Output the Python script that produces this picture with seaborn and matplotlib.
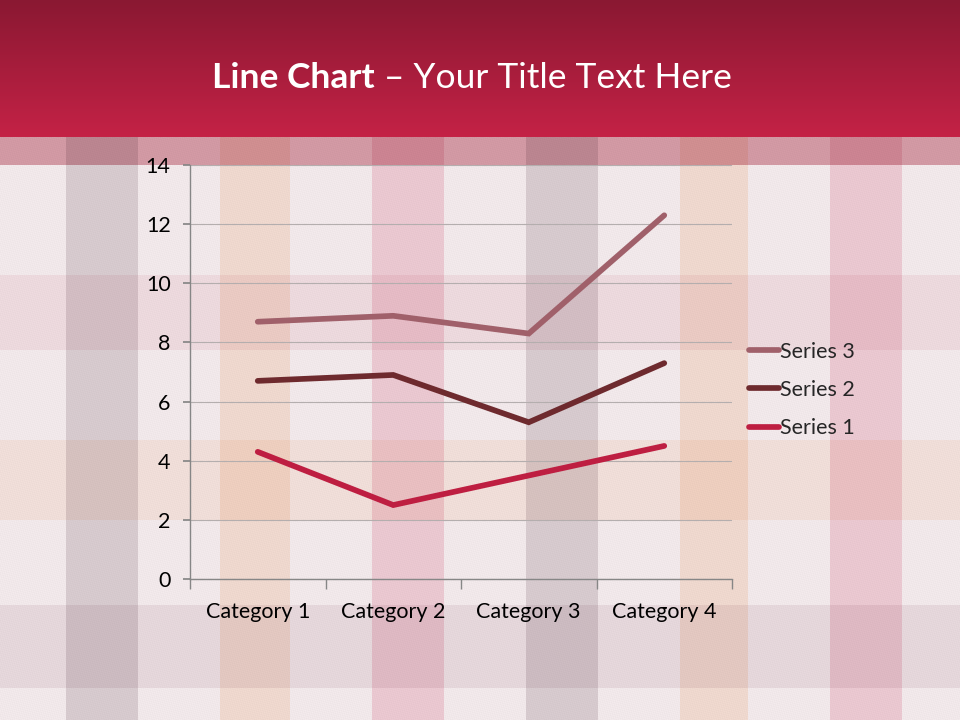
import numpy as np
import pandas as pd
import matplotlib
matplotlib.use("Agg")
import matplotlib.pyplot as plt
import seaborn as sns

# ---- data (stacked line chart values as displayed) ----
categories = ["Category 1", "Category 2", "Category 3", "Category 4"]
series_1 = [4.3, 2.5, 3.5, 4.5]
series_2 = [6.7, 6.9, 5.3, 7.3]
series_3 = [8.7, 8.9, 8.3, 12.3]
series_names = ["Series 1", "Series 2", "Series 3"]
y_ticks = [0, 2, 4, 6, 8, 10, 12, 14]
title_bold = "Line Chart"
title_rest = " \u2013 Your Title Text Here"

colors = {"Series 1": "#BE1E41", "Series 2": "#6E2A2E", "Series 3": "#A0606A"}

df = pd.DataFrame({
    "Category": categories * 3,
    "Value": series_1 + series_2 + series_3,
    "Series": sum([[n] * len(categories) for n in series_names], []),
})

sns.set_theme(style="white")
plt.rcParams["font.family"] = ["Lato", "DejaVu Sans"]

W, H = 960, 720
fig = plt.figure(figsize=(9.6, 7.2), dpi=100)

# ---- plaid background ----
bg = fig.add_axes([0, 0, 1, 1])
bg.set_axis_off()
img = np.ones((H, W, 3)) * np.array([241, 232, 234]) / 255.0
vstripes = [(66, 138, (0.89, 0.87, 0.88)), (220, 290, (0.99, 0.93, 0.88)),
            (372, 444, (0.97, 0.86, 0.89)), (526, 598, (0.89, 0.87, 0.88)),
            (680, 748, (0.99, 0.93, 0.88)), (830, 902, (0.97, 0.86, 0.89))]
for x0, x1, m in vstripes:
    img[:, x0:x1, :] *= np.array(m)
hstripes = [(275, 350, (0.98, 0.935, 0.945)), (440, 520, (0.995, 0.955, 0.925)),
            (605, 688, (0.95, 0.925, 0.935))]
for y0, y1, m in hstripes:
    img[y0:y1, :, :] *= np.array(m)
# subtle woven texture
yy, xx = np.mgrid[0:H, 0:W]
tex = 1.0 + 0.018 * np.sin((xx + yy) * 2.1) * np.sin((xx - yy) * 1.3)
img *= tex[:, :, None]
# darker band under title
img[137:165, :, :] *= np.array([0.87, 0.66, 0.70])
# title bar gradient
top = np.array([138, 24, 50]) / 255.0
bot = np.array([196, 34, 70]) / 255.0
for y in range(0, 137):
    t = y / 136.0
    img[y, :, :] = top * (1 - t) + bot * t
img = np.clip(img, 0, 1)
bg.imshow(img, extent=[0, W, H, 0], aspect="auto", interpolation="nearest")
bg.set_xlim(0, W)
bg.set_ylim(H, 0)

# title
tb = bg.text(0, 78, title_bold, color="white", fontsize=25.5, fontweight="bold",
             va="center", ha="left")
fig.canvas.draw()
r = fig.canvas.get_renderer()
tr = bg.text(0, 78, title_rest, color="white", fontsize=25.5, va="center", ha="left")
fig.canvas.draw()
w1 = tb.get_window_extent(r).width
w2 = tr.get_window_extent(r).width
x_start = 472 - (w1 + w2) / 2
tb.set_x(x_start)
tr.set_x(x_start + w1)

# ---- chart ----
ax = fig.add_axes([190 / W, (H - 579) / H, 542 / W, 414 / H])
ax.patch.set_alpha(0)
sns.lineplot(data=df, x="Category", y="Value", hue="Series", hue_order=series_names,
             palette=colors, linewidth=4.1, sort=False, ax=ax,
             solid_capstyle="round", solid_joinstyle="miter")
ax.set_xlim(-0.5, len(categories) - 0.5)
ax.set_ylim(0, 14)
ax.set_yticks(y_ticks)
ax.set_yticklabels([str(v) for v in y_ticks])
ax.set_xticks(range(len(categories)))
ax.set_xticklabels(categories)
ax.set_xlabel("")
ax.set_ylabel("")
for s in ["top", "right"]:
    ax.spines[s].set_visible(False)
for s in ["left", "bottom"]:
    ax.spines[s].set_color("#868686")
    ax.spines[s].set_linewidth(1.0)
ax.grid(axis="y", color="#B4AEAE", linewidth=0.8)
ax.set_axisbelow(True)
ax.tick_params(axis="y", which="major", left=True, length=5, color="#868686",
               labelsize=15.5, labelcolor="black", pad=9)
ax.tick_params(axis="x", which="major", bottom=False, labelsize=15.5,
               labelcolor="black", pad=10.5)
ax.set_xticks([i - 0.5 for i in range(len(categories) + 1)], minor=True)
ax.tick_params(axis="x", which="minor", bottom=True, length=7, color="#868686")

handles, labels = ax.get_legend_handles_labels()
ax.legend(handles[::-1], labels[::-1], loc="center left",
          bbox_to_anchor=(749 / W, (H - 390) / H), bbox_transform=fig.transFigure,
          frameon=False, fontsize=15.5, handlelength=1.4, handletextpad=0.05,
          labelspacing=0.85, borderaxespad=0, borderpad=0)

fig.savefig("out.png", dpi=100)
